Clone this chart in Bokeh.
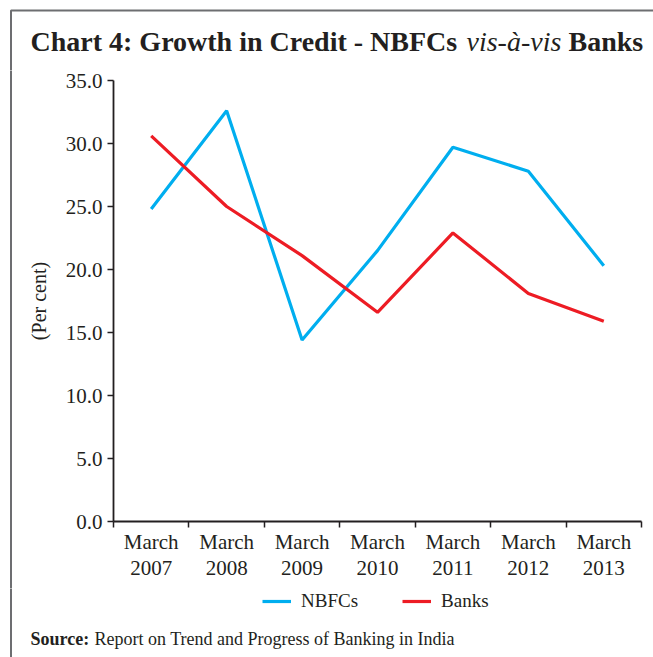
from bokeh.plotting import figure
from bokeh.layouts import column, row
from bokeh.models import (FixedTicker, NumeralTickFormatter, Legend, LegendItem,
                          Range1d, ColumnDataSource)
from bokeh.core.properties import value
from bokeh.embed import file_html
from bokeh.resources import INLINE

# ---- data ----
years = ["2007", "2008", "2009", "2010", "2011", "2012", "2013"]
x_labels = ["March\n" + y for y in years]
nbfcs = [24.8, 32.6, 14.4, 21.5, 29.7, 27.8, 20.3]
banks = [30.6, 25.0, 21.1, 16.6, 22.9, 18.1, 15.9]
y_ticks = [0, 5, 10, 15, 20, 25, 30, 35]
series_names = ["NBFCs", "Banks"]
title_parts = ["Chart 4: Growth in Credit - NBFCs", "vis-à-vis", "Banks"]
source_parts = ["Source:", "Report on Trend and Progress of Banking in India"]

# ---- layout constants ----
W, H = 653, 657
TOP_H = 70          # title strip
MID_BOTTOM = 588    # bottom of chart strip (canvas y)
STRIP_W = 20        # left strip carrying the gray frame line
BX, BY = 10.5, 10   # gray frame line position
FRAME_L, FRAME_R, FRAME_T, FRAME_B = 113, 641, 80, 521
FONT = "Liberation Serif"
INK = "#231f20"
GRAY = "#6d6e71"
BLUE = "#00aeef"
RED = "#ed1c24"


def blank(width, height, y0):
    """figure whose frame is the whole canvas, y measured downward from canvas y0"""
    f = figure(width=width, height=height, output_backend="svg", toolbar_location=None,
               x_range=Range1d(0, width), y_range=Range1d(y0 + height, y0),
               x_axis_location=None, y_axis_location=None, min_border=0,
               frame_align=False)
    f.outline_line_color = None
    f.grid.visible = False
    f.border_fill_color = "white"
    return f


# ---- title strip ----
ft = blank(W, TOP_H, 0)
ft.line([BX, BX, W + 5], [TOP_H + 5, BY, BY], line_color=GRAY, line_width=2)
for txt, cx, style in zip(title_parts, [30, 466, 568], ["bold", "italic", "bold"]):
    ft.text(x=[cx], y=[41], text=[txt], text_font=value(FONT), text_font_style=style,
            text_font_size="28px", text_color=INK, text_baseline="alphabetic")

# ---- left strip ----
MID_H = MID_BOTTOM - TOP_H
fs = blank(STRIP_W, MID_H, TOP_H)
fs.line([BX, BX], [TOP_H - 5, MID_BOTTOM + 5], line_color=GRAY, line_width=2)

# ---- main chart ----
MW = W - STRIP_W
p = figure(width=MW, height=MID_H, output_backend="svg", toolbar_location=None,
           x_range=Range1d(0, len(years)), y_range=Range1d(0, 35),
           min_border_left=FRAME_L - STRIP_W, min_border_right=W - FRAME_R,
           min_border_top=FRAME_T - TOP_H, min_border_bottom=MID_BOTTOM - FRAME_B,
           frame_align=False)
p.outline_line_color = None
p.grid.visible = False
p.border_fill_color = "white"

xs = [i + 0.5 for i in range(len(years))]
src = ColumnDataSource(dict(x=xs, nbfcs=nbfcs, banks=banks))
p.line("x", "nbfcs", source=src, line_color=BLUE, line_width=3.2)
p.line("x", "banks", source=src, line_color=RED, line_width=3.2)

xa = p.xaxis[0]
xa.ticker = FixedTicker(ticks=xs, minor_ticks=list(range(len(years) + 1)))
xa.major_label_overrides = {x: lab for x, lab in zip(xs, x_labels)}
xa.major_tick_out = 0
xa.major_tick_in = 0
xa.minor_tick_out = 6
xa.minor_tick_in = 0
xa.minor_tick_line_color = INK
xa.minor_tick_line_width = 1.5
xa.axis_line_color = INK
xa.axis_line_width = 1.8
xa.major_label_text_font = FONT
xa.major_label_text_font_size = "21px"
xa.major_label_text_line_height = 1.1
xa.major_label_text_color = INK
xa.major_label_standoff = 2

ya = p.yaxis[0]
ya.ticker = FixedTicker(ticks=y_ticks, minor_ticks=[])
ya.formatter = NumeralTickFormatter(format="0.0")
ya.major_tick_out = 6
ya.major_tick_in = 0
ya.major_tick_line_color = INK
ya.major_tick_line_width = 1.5
ya.axis_line_color = INK
ya.axis_line_width = 1.8
ya.major_label_text_font = FONT
ya.major_label_text_font_size = "21px"
ya.major_label_text_color = INK
ya.major_label_standoff = 5
ya.axis_label = "(Per cent)"
ya.axis_label_text_font = FONT
ya.axis_label_text_font_style = "normal"
ya.axis_label_text_font_size = "20px"
ya.axis_label_text_color = INK
ya.axis_label_standoff = 13

# ---- bottom strip: legend + source ----
BOT_H = H - MID_BOTTOM
fb = blank(W, BOT_H, MID_BOTTOM)
fb.line([BX, BX], [MID_BOTTOM - 5, H + 5], line_color=GRAY, line_width=2)
# legend proxies (drawn off-canvas; only their swatches show in the legend)
pr1 = fb.line(x=[-50, -40], y=[MID_BOTTOM + 10] * 2, line_color=BLUE, line_width=3.2)
pr2 = fb.line(x=[-50, -40], y=[MID_BOTTOM + 10] * 2, line_color=RED, line_width=3.2)
legend = Legend(items=[LegendItem(label=series_names[0], renderers=[pr1]),
                       LegendItem(label=series_names[1], renderers=[pr2])],
                orientation="horizontal", location=(262, H - 612),
                glyph_width=29, glyph_height=20, label_standoff=10, spacing=44,
                padding=0, margin=0, border_line_alpha=0, background_fill_alpha=0,
                label_text_font=FONT, label_text_font_size="19px", label_text_color=INK)
fb.add_layout(legend, "center")
for txt, cx, style in zip(source_parts, [30, 94], ["bold", "normal"]):
    fb.text(x=[cx], y=[638.5], text=[txt], text_font=value(FONT), text_font_style=style,
            text_font_size="18px", text_color=INK, text_baseline="alphabetic")

layout = column(ft, row(fs, p, spacing=0), fb, spacing=0)
open("out.html", "w").write(file_html(layout, INLINE))
